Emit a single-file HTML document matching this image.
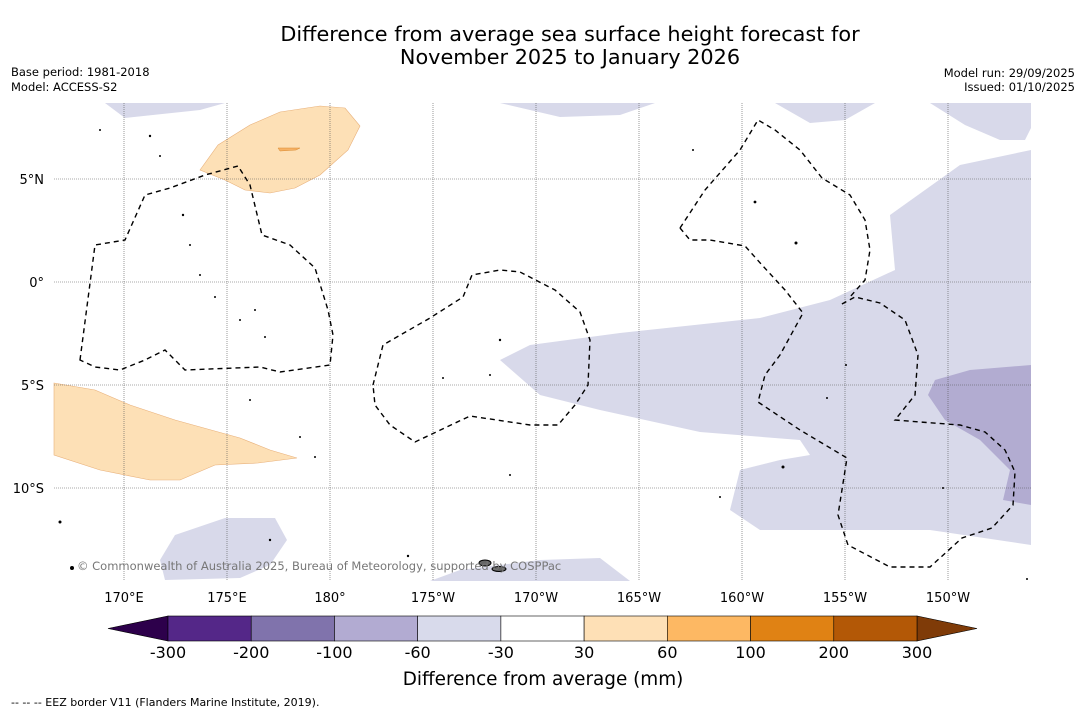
<!DOCTYPE html>
<html><head><meta charset="utf-8"><style>
body{margin:0;background:#fff;font-family:"DejaVu Sans","Liberation Sans",sans-serif;}
svg text{font-family:"DejaVu Sans","Liberation Sans",sans-serif;}
</style></head><body>
<svg id="chart" width="1085" height="713" viewBox="0 0 1085 713" xmlns="http://www.w3.org/2000/svg">
<rect width="1085" height="713" fill="#fff"/>
<text x="570" y="41" font-size="20.8" text-anchor="middle">Difference from average sea surface height forecast for</text>
<text x="570" y="64" font-size="20.8" text-anchor="middle">November 2025 to January 2026</text>
<text x="11" y="76" font-size="11.5">Base period: 1981-2018</text>
<text x="11" y="91" font-size="11.5">Model: ACCESS-S2</text>
<text x="1075" y="77" font-size="11.5" text-anchor="end">Model run: 29/09/2025</text>
<text x="1075" y="91" font-size="11.5" text-anchor="end">Issued: 01/10/2025</text>
<g id="map">
<rect x="54" y="103" width="977" height="478" fill="#fff"/>
<g fill="#d8d9ea">
<path d="M500,360 L530,345 L620,333 L760,318 L830,300 L895,270 L890,215 L960,165 L1031,150 L1031,545 L930,530 L760,530 L730,510 L740,470 L780,460 L810,455 L800,440 L700,432 L600,410 L540,395 Z"/>
<path d="M105,103 L225,103 L200,110 L125,118 Z"/>
<path d="M500,103 L655,103 L620,115 L560,117 Z"/>
<path d="M775,103 L875,103 L845,120 L810,123 Z"/>
<path d="M930,103 L1031,103 L1031,128 L1025,140 L1000,140 L965,125 Z"/>
<path d="M175,535 L225,518 L275,518 L287,540 L270,565 L240,578 L165,580 L160,560 Z"/>
<path d="M430,581 L460,570 L540,560 L600,558 L630,581 Z"/>
</g>
<path d="M935,380 L970,370 L1031,365 L1031,505 L1003,500 L1010,470 L980,440 L945,420 L928,395 Z" fill="#b2acd1"/>
<g fill="#fde0b6" stroke="#e8b07a" stroke-width="0.6">
<path d="M200,170 L218,145 L250,125 L280,112 L320,106 L345,108 L360,126 L348,150 L320,175 L295,188 L270,193 L245,190 L225,180 Z"/>
<path d="M54,383 L95,390 L130,405 L175,420 L240,438 L270,450 L297,458 L258,463 L215,465 L180,480 L150,480 L100,470 L54,455 Z"/>
</g>
<path d="M278,148 L300,148 L296,150 L280,151 Z" fill="#f6b266" stroke="#d98a30" stroke-width="0.5"/>
<g id="grid" stroke="#555" stroke-width="0.6" stroke-dasharray="1,1"></g>
<g fill="none" stroke="#000" stroke-width="1.4" stroke-dasharray="5,4">
<path d="M80,360 L95,245 L125,240 L145,195 L170,188 L205,175 L238,166 L250,185 L262,235 L290,245 L315,268 L328,310 L333,335 L330,365 L280,372 L260,367 L185,370 L165,350 L145,360 L120,370 L95,367 Z"/>
<path d="M373,385 L383,345 L430,318 L463,297 L472,275 L500,270 L520,272 L555,290 L580,312 L590,340 L588,385 L575,405 L558,425 L530,425 L470,416 L415,442 L390,425 L375,405 Z"/>
<path d="M680,228 L705,190 L740,150 L758,120 L775,130 L800,150 L822,178 L850,195 L865,220 L870,250 L865,280 L850,297"/>
<path d="M680,228 L690,240 L710,240 L745,246 L762,265 L785,290 L803,313 L780,355 L765,375 L758,402 L800,430 L847,458 L838,515 L848,545 L890,567 L930,567 L962,538 L992,528 L1013,505 L1015,472 L1005,450 L985,432 L960,425 L920,422 L895,420 L915,395 L918,355 L905,320 L880,303 L855,297 L840,305"/>
</g>
<g fill="#000">
<circle cx="100" cy="130" r="1"/><circle cx="150" cy="136" r="1.2"/><circle cx="160" cy="156" r="1"/><circle cx="183" cy="215" r="1.2"/><circle cx="190" cy="245" r="1"/><circle cx="200" cy="275" r="1"/><circle cx="215" cy="297" r="1"/><circle cx="240" cy="320" r="1"/><circle cx="255" cy="310" r="1"/><circle cx="265" cy="337" r="1"/><circle cx="250" cy="400" r="1"/><circle cx="300" cy="437" r="1"/><circle cx="315" cy="457" r="1"/><circle cx="500" cy="340" r="1.2"/><circle cx="443" cy="378" r="1"/><circle cx="490" cy="375" r="1"/><circle cx="510" cy="475" r="1"/><circle cx="693" cy="150" r="1"/><circle cx="755" cy="202" r="1.4"/><circle cx="796" cy="243" r="1.5"/><circle cx="783" cy="467" r="1.5"/><circle cx="827" cy="398" r="1"/><circle cx="846" cy="365" r="1"/><circle cx="60" cy="522" r="1.5"/><circle cx="72" cy="568" r="2"/><circle cx="270" cy="540" r="1.2"/><circle cx="408" cy="556" r="1.2"/><circle cx="720" cy="497" r="1"/><circle cx="943" cy="488" r="1"/><circle cx="1027" cy="579" r="1"/>
<ellipse cx="485" cy="563" rx="6" ry="3" fill="#666" stroke="#000"/><ellipse cx="499" cy="569" rx="7" ry="2.5" fill="#666" stroke="#000"/>
</g>
<text x="77" y="570" font-size="11.5" fill="#777">© Commonwealth of Australia 2025, Bureau of Meteorology, supported by COSPPac</text>
</g>
<g id="axes" font-size="13"></g>
<g id="colorbar"></g>
<text x="543" y="685" font-size="18.4" text-anchor="middle">Difference from average (mm)</text>
<text x="11" y="706" font-size="11">--  --  -- EEZ border V11 (Flanders Marine Institute, 2019).</text>
</svg>
<script>
const lonTicks=[170,175,180,-175,-170,-165,-160,-155,-150];
const lonLabels=["170°E","175°E","180°","175°W","170°W","165°W","160°W","155°W","150°W"];
const latTicks=[5,0,-5,-10];
const latLabels=["5°N","0°","5°S","10°S"];
const cbBounds=["-300","-200","-100","-60","-30","30","60","100","200","300"];
const cbColors=["#542788","#8073ac","#b2abd2","#d8daeb","#ffffff","#fee0b6","#fdb863","#e08214","#b35806"];
const cbExtLow="#2d004b", cbExtHigh="#7f3b08";
const NS="http://www.w3.org/2000/svg";
function xLon(l){const e=l<0?l+360:l;return 124+(e-170)*20.6;}
function yLat(l){return 282-l*20.6;}
const grid=document.getElementById('grid'),axes=document.getElementById('axes');
lonTicks.forEach((l,i)=>{const x=xLon(l);
 const ln=document.createElementNS(NS,'line');ln.setAttribute('x1',x);ln.setAttribute('x2',x);ln.setAttribute('y1',103);ln.setAttribute('y2',581);
 
 
 grid.appendChild(ln);
 const t=document.createElementNS(NS,'text');t.setAttribute('x',x);t.setAttribute('y',602);t.setAttribute('text-anchor','middle');t.textContent=lonLabels[i];
 
 
 axes.appendChild(t);});
latTicks.forEach((l,i)=>{const y=yLat(l);
 const ln=document.createElementNS(NS,'line');ln.setAttribute('x1',54);ln.setAttribute('x2',1031);ln.setAttribute('y1',y);ln.setAttribute('y2',y);
 
 
 grid.appendChild(ln);
 const t=document.createElementNS(NS,'text');t.setAttribute('x',44);t.setAttribute('y',y+5);t.setAttribute('text-anchor','end');t.textContent=latLabels[i];
 
 
 axes.appendChild(t);});
const cb=document.getElementById('colorbar');
const x0=168,x1=917,y0=616,h=25,w=(x1-x0)/cbColors.length;
const lo=document.createElementNS(NS,'polygon');lo.setAttribute('points',`${x0},${y0} ${x0},${y0+h} 108,${y0+h/2}`);lo.setAttribute('fill',cbExtLow);lo.setAttribute('stroke','#000');lo.setAttribute('stroke-width','0.6');


cb.appendChild(lo);
const hi=document.createElementNS(NS,'polygon');hi.setAttribute('points',`${x1},${y0} ${x1},${y0+h} 977,${y0+h/2}`);hi.setAttribute('fill',cbExtHigh);hi.setAttribute('stroke','#000');hi.setAttribute('stroke-width','0.6');


cb.appendChild(hi);
cbColors.forEach((c,i)=>{const r=document.createElementNS(NS,'rect');r.setAttribute('x',x0+i*w);r.setAttribute('y',y0);r.setAttribute('width',w);r.setAttribute('height',h);r.setAttribute('fill',c);r.setAttribute('stroke','#000');r.setAttribute('stroke-width','0.6');
 
 
 cb.appendChild(r);});
cbBounds.forEach((b,i)=>{const t=document.createElementNS(NS,'text');t.setAttribute('x',x0+i*w);t.setAttribute('y',658);t.setAttribute('text-anchor','middle');t.setAttribute('font-size','16');t.textContent=b;
 
 
 cb.appendChild(t);});
</script>
</body></html>
